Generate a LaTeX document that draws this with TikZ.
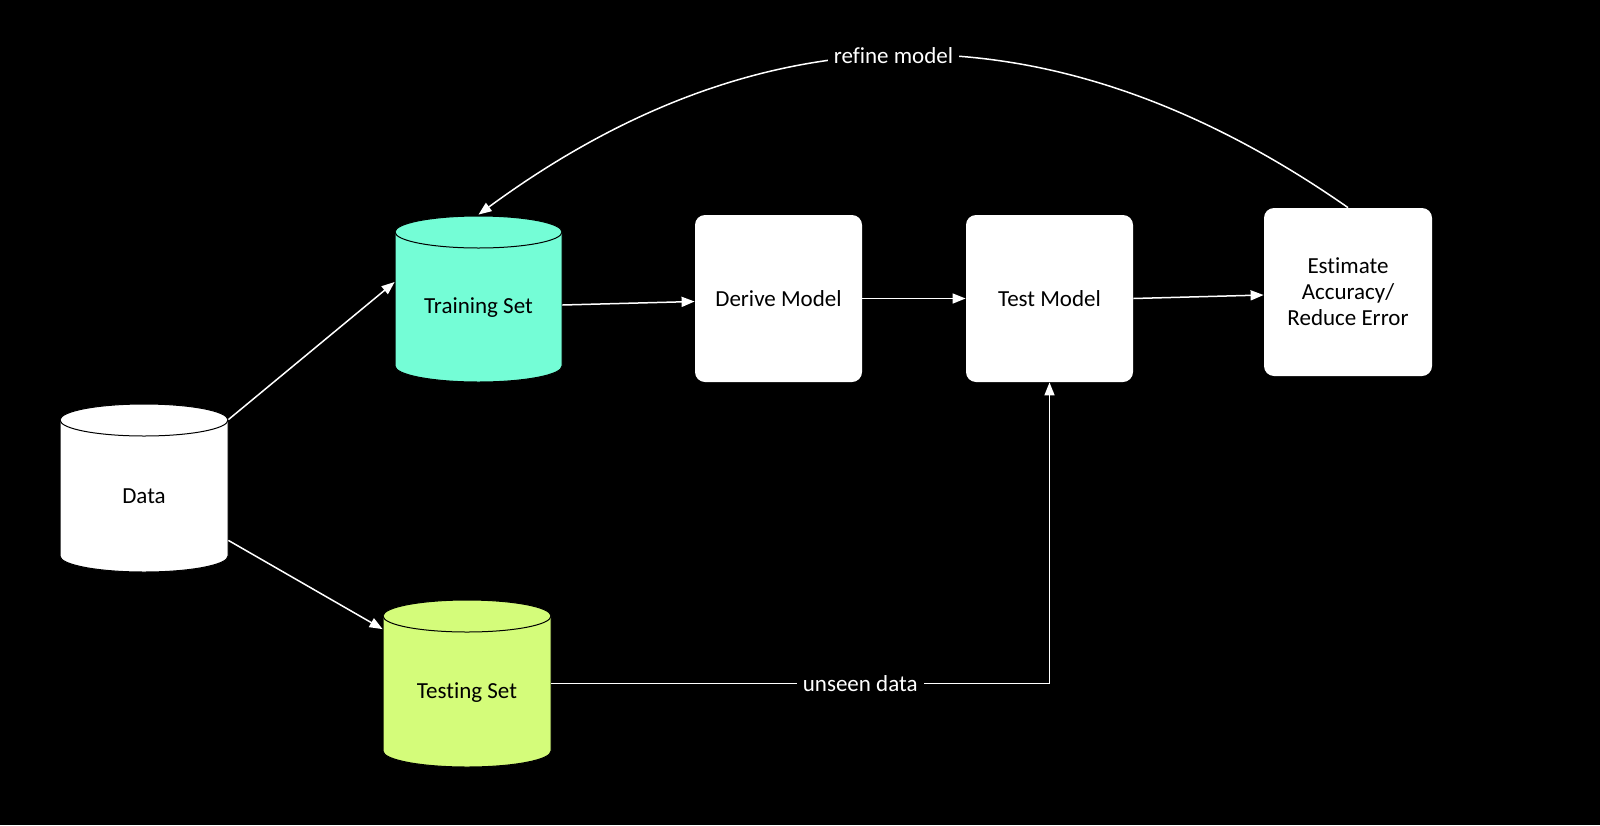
\documentclass[tikz,border=0pt]{standalone}
\usepackage{fontspec}
\setmainfont{Carlito}[Ligatures={NoCommon}]
\usetikzlibrary{arrows.meta}
\definecolor{trainc}{RGB}{116,253,214}
\definecolor{testc}{RGB}{212,252,122}
\newcommand\drawcyl[6]{%
  \filldraw[fill=#6, draw=black, line width=0.5pt]
    ({#1-#4},#2) -- ({#1-#4},#3)
    arc[start angle=180, end angle=360, x radius=#5, y radius=8pt]
    -- ({#1+#4},#2)
    arc[start angle=0, end angle=180, x radius=#5, y radius=8pt] -- cycle;
  \draw[black, line width=0.5pt] ({#1-#4},#2)
    arc[start angle=180, end angle=360, x radius=#5, y radius=8pt];
}
\begin{document}
\begin{tikzpicture}[x=0.5pt, y=-0.5pt,
  font=\fontsize{11.5}{13}\selectfont,
  conn/.style={draw=white, line width=0.75pt, -{Triangle[length=6.5pt, width=5pt]}},
  box/.style={fill=white, rounded corners=5pt, minimum width=83.5pt, minimum height=83.5pt,
    inner sep=0pt, align=center, text=black},
  cylnode/.style={inner sep=0pt, minimum width=#1, minimum height=68pt},
  cyltext/.style={inner sep=0pt, text=black},
  lbl/.style={fill=black, text=white, inner sep=3pt}
]
\useasboundingbox (0,0) rectangle (1600,825);
\fill[black] (0,0) rectangle (1600,825);

% cylinders
\drawcyl{144}{420}{556}{84}{42pt}{white}
\drawcyl{478.5}{232}{366}{83.5}{41.75pt}{trainc}
\drawcyl{467}{616}{751}{84}{42pt}{testc}

\node[cylnode=84pt] (data) at (144,488) {};
\node[cyltext] (datal) at (144,496) {Data};
\node[cylnode=83.5pt] (train) at (478.5,299) {};
\node[cyltext] (trainl) at (478.5,308) {Training Set};
\node[cylnode=84pt] (testset) at (467,683.5) {};
\node[cyltext] (testl) at (467,693) {Testing Set};

% boxes
\node[box] (derive) at (778.5,298.5) {Derive Model};
\node[box] (testm) at (1049.5,298.5) {Test Model};
\node[box, minimum width=84pt, minimum height=84pt] (est) at (1348,292) {Estimate\\Accuracy/\\Reduce Error};

% connectors
\draw[conn] (data.north east) -- ([yshift=8.5pt]train.west);
\draw[conn] ([yshift=8pt]data.south east) -- ([yshift=-7pt]testset.north west);
\draw[conn] ([yshift=-3pt]train.east) -- ([yshift=-1.5pt]derive.west);
\draw[conn] (derive.east) -- (testm.west);
\draw[conn] (testm.east) -- ([yshift=-1.5pt]est.west);
\draw[conn] (testset.east) -- node[lbl, pos=0.62] {unseen data} (testset.east -| testm.south) -- (testm.south);
\draw[conn] (est.north) .. controls (1055,3) and (765,4) .. node[lbl, pos=0.52] {refine model} ([yshift=8pt]train.north);
\end{tikzpicture}
\end{document}
